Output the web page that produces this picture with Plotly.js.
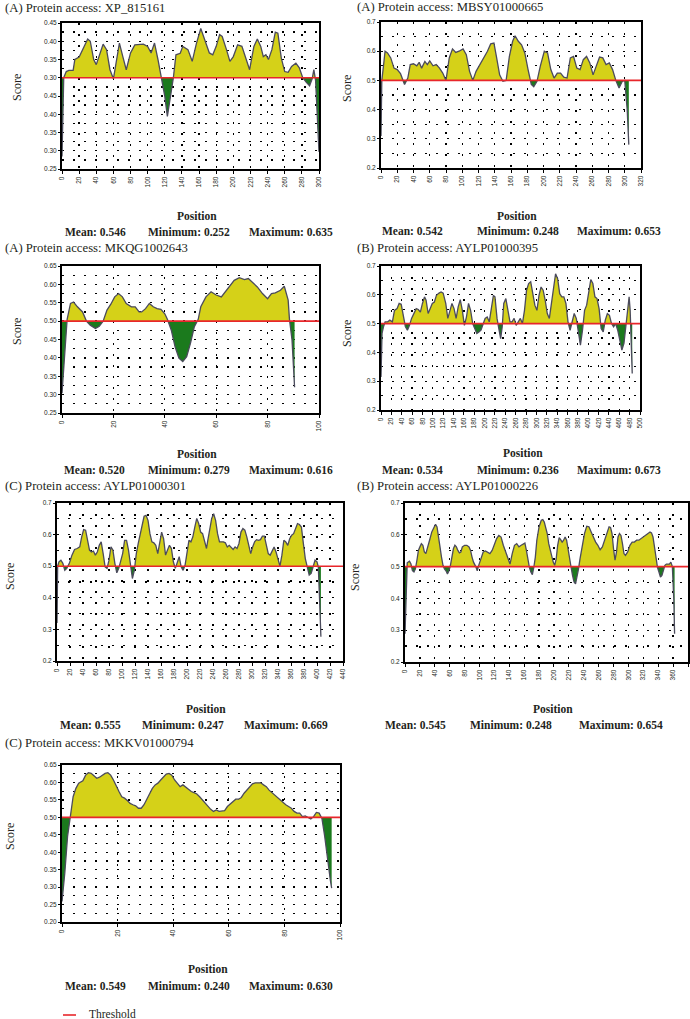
<!DOCTYPE html>
<html>
<head>
<meta charset="utf-8">
<script src="https://cdn.plot.ly/plotly-3.0.1.min.js"></script>
<style>
  body { margin: 0; background: #fff; }
  #chart { width: 690px; height: 1019px; }
</style>
</head>
<body>
<div id="chart"></div>
<script>
// Antigenicity plots, seven proteins - Plotly.js

var threshold = 0.5;

var titles = [
    '(A) Protein access: XP_815161',
    '(A) Protein access: MBSY01000665',
    '(A) Protein access: MKQG1002643',
    '(B) Protein access: AYLP01000395',
    '(C) Protein access: AYLP01000301',
    '(B) Protein access: AYLP01000226',
    '(C) Protein access: MKKV01000794'
];
var means = [0.546, 0.542, 0.520, 0.534, 0.555, 0.545, 0.549];
var minima = [0.252, 0.248, 0.279, 0.236, 0.247, 0.248, 0.240];
var maxima = [0.635, 0.653, 0.616, 0.673, 0.669, 0.654, 0.630];

var xRanges = [[0, 300], [0, 320], [0, 100], [0, 500], [0, 440], [0, 380], [0, 100]];
var yRanges = [[0.25, 0.65], [0.2, 0.7], [0.25, 0.65], [0.2, 0.7], [0.2, 0.7], [0.2, 0.7], [0.2, 0.65]];
var yDticks = [0.05, 0.1, 0.05, 0.1, 0.1, 0.1, 0.05];
// the first panel carries its (misprinted) tick labels as in the source figure
var yTickVals1 = [0.25, 0.30, 0.35, 0.40, 0.45, 0.50, 0.55, 0.60, 0.65];
var yTickText1 = ['0.25', '0.30', '0.35', '0.40', '0.45', '0.30', '0.35', '0.40', '0.45'];

var pos1 = [0, 2, 5, 8, 13, 15, 20, 25, 30, 33, 37, 40, 45, 48, 52, 56, 60, 63, 67, 71, 75, 80, 85, 95, 100,
    104, 108, 112, 116, 120, 123, 126, 130, 133, 138, 141, 147, 152, 157, 162, 167, 172, 176, 180, 184,
    187, 192, 196, 200, 205, 210, 215, 219, 224, 228, 232, 235, 238, 241, 245, 249, 252, 256, 260, 264,
    268, 273, 277, 281, 285, 289, 292, 294, 296, 298, 300];
var score1 = [0.284, 0.50, 0.517, 0.52, 0.52, 0.55, 0.557, 0.58, 0.606, 0.60, 0.55, 0.536, 0.568, 0.592, 0.577,
    0.522, 0.497, 0.54, 0.595, 0.558, 0.522, 0.568, 0.59, 0.592, 0.586, 0.568, 0.595, 0.55, 0.50, 0.449,
    0.394, 0.44, 0.50, 0.563, 0.567, 0.586, 0.577, 0.545, 0.595, 0.635, 0.604, 0.568, 0.563, 0.586, 0.618,
    0.613, 0.577, 0.545, 0.558, 0.59, 0.586, 0.55, 0.522, 0.586, 0.606, 0.586, 0.558, 0.563, 0.55, 0.577,
    0.625, 0.622, 0.554, 0.517, 0.515, 0.531, 0.54, 0.527, 0.50, 0.488, 0.478, 0.497, 0.522, 0.493, 0.385, 0.297];

var pos2 = [0, 1, 3, 5, 8, 12, 16, 20, 24, 29, 33, 36, 40, 44, 47, 50, 54, 57, 60, 64, 68, 72, 76, 80, 84,
    88, 92, 96, 101, 105, 109, 113, 117, 122, 127, 131, 135, 139, 142, 146, 150, 154, 158, 162, 165,
    169, 173, 177, 181, 185, 188, 192, 196, 201, 205, 209, 213, 217, 221, 225, 229, 233, 237, 241, 245,
    249, 253, 257, 261, 265, 269, 273, 277, 281, 285, 289, 293, 297, 300, 303, 305];
var score2 = [0.31, 0.50, 0.548, 0.60, 0.594, 0.577, 0.542, 0.537, 0.523, 0.486, 0.508, 0.554, 0.557, 0.55, 0.562,
    0.542, 0.565, 0.554, 0.567, 0.55, 0.554, 0.542, 0.525, 0.50, 0.577, 0.608, 0.596, 0.60, 0.608, 0.588,
    0.531, 0.50, 0.531, 0.554, 0.577, 0.60, 0.625, 0.628, 0.582, 0.519, 0.497, 0.50, 0.582, 0.634, 0.653,
    0.634, 0.622, 0.594, 0.537, 0.486, 0.478, 0.497, 0.548, 0.60, 0.594, 0.537, 0.508, 0.525, 0.525, 0.511,
    0.508, 0.577, 0.582, 0.542, 0.537, 0.571, 0.582, 0.56, 0.519, 0.548, 0.58, 0.577, 0.554, 0.56, 0.537,
    0.50, 0.474, 0.497, 0.50, 0.40, 0.28];

var pos3 = [0, 1, 2, 3.3, 4.5, 6, 8, 9.5, 11, 13, 14.5, 16, 17.5, 19, 20.5, 22, 23.5, 25, 27, 28.5, 30, 31, 32.5,
    34, 35.5, 37, 38.5, 40, 41, 42.5, 44, 45.5, 47, 48.5, 50, 51.5, 53, 54, 56, 58, 60, 62, 63.5, 65, 67,
    69, 71, 72.5, 74, 76, 78, 80, 81.5, 83, 85, 86.5, 88, 88.5, 89.5, 90.5];
var score3 = [0.304, 0.395, 0.505, 0.548, 0.552, 0.539, 0.525, 0.50, 0.489, 0.48, 0.486, 0.50, 0.53, 0.546, 0.566,
    0.575, 0.566, 0.548, 0.539, 0.539, 0.525, 0.525, 0.534, 0.548, 0.539, 0.534, 0.532, 0.52, 0.505, 0.476,
    0.43, 0.399, 0.39, 0.403, 0.44, 0.485, 0.505, 0.539, 0.566, 0.58, 0.571, 0.566, 0.58, 0.595, 0.611,
    0.618, 0.613, 0.616, 0.607, 0.593, 0.575, 0.561, 0.575, 0.577, 0.584, 0.595, 0.557, 0.505, 0.449, 0.32];

var pos4 = [0, 2, 5, 8, 13, 17, 22, 26, 31, 35, 39, 43, 47, 51, 55, 59, 64, 68, 72, 76, 80, 84, 87, 91, 95,
    99, 103, 107, 112, 116, 120, 125, 129, 133, 137, 141, 145, 149, 153, 157, 161, 165, 169, 173, 177,
    181, 185, 189, 193, 197, 201, 205, 209, 213, 217, 220, 224, 228, 231, 234, 237, 241, 245, 249, 253,
    257, 261, 265, 269, 273, 277, 281, 285, 289, 293, 297, 301, 305, 309, 313, 317, 321, 325, 329, 333,
    337, 341, 345, 349, 353, 357, 361, 365, 369, 373, 377, 381, 385, 389, 393, 397, 401, 405, 409, 413,
    417, 421, 425, 429, 433, 437, 441, 445, 449, 453, 457, 461, 465, 469, 473, 476, 479, 481, 483, 485];
var score4 = [0.315, 0.466, 0.49, 0.506, 0.506, 0.512, 0.506, 0.546, 0.552, 0.57, 0.567, 0.523, 0.49, 0.477, 0.494,
    0.518, 0.535, 0.552, 0.549, 0.54, 0.57, 0.593, 0.581, 0.535, 0.552, 0.57, 0.575, 0.598, 0.606, 0.61,
    0.606, 0.57, 0.518, 0.546, 0.57, 0.552, 0.518, 0.558, 0.583, 0.546, 0.494, 0.523, 0.57, 0.546, 0.50,
    0.483, 0.466, 0.471, 0.477, 0.498, 0.518, 0.523, 0.506, 0.552, 0.598, 0.593, 0.518, 0.477, 0.448, 0.489,
    0.57, 0.587, 0.552, 0.506, 0.506, 0.518, 0.494, 0.506, 0.518, 0.50, 0.546, 0.616, 0.639, 0.645, 0.604,
    0.564, 0.546, 0.598, 0.627, 0.616, 0.581, 0.535, 0.518, 0.57, 0.627, 0.673, 0.656, 0.604, 0.593, 0.593,
    0.57, 0.506, 0.477, 0.512, 0.535, 0.518, 0.477, 0.425, 0.477, 0.546, 0.564, 0.604, 0.653, 0.639, 0.593,
    0.587, 0.552, 0.483, 0.471, 0.512, 0.535, 0.529, 0.50, 0.489, 0.50, 0.477, 0.437, 0.408, 0.431, 0.494,
    0.535, 0.593, 0.546, 0.419, 0.327];

var pos5 = [0, 1, 3, 6, 9, 12, 15, 19, 23, 27, 31, 35, 38, 41, 44, 47, 50, 53, 56, 59, 62, 65, 68, 71, 74,
    77, 80, 83, 86, 89, 92, 95, 98, 101, 104, 107, 110, 113, 116, 119, 122, 125, 128, 131, 134, 137, 140,
    143, 146, 149, 152, 155, 158, 161, 164, 167, 170, 173, 176, 179, 182, 185, 188, 191, 194, 197, 200,
    203, 206, 209, 212, 215, 218, 221, 224, 227, 230, 232, 235, 238, 241, 244, 247, 250, 253, 256, 259,
    262, 265, 268, 271, 274, 277, 280, 283, 286, 289, 292, 295, 298, 301, 304, 307, 310, 313, 316, 319,
    322, 325, 328, 331, 334, 337, 340, 343, 346, 349, 352, 355, 358, 361, 364, 367, 370, 373, 376, 379,
    382, 385, 388, 391, 394, 397, 400, 402, 404, 405, 406];
var score5 = [0.32, 0.50, 0.514, 0.519, 0.509, 0.487, 0.493, 0.509, 0.535, 0.553, 0.556, 0.561, 0.593, 0.616, 0.614,
    0.582, 0.551, 0.545, 0.548, 0.535, 0.545, 0.566, 0.577, 0.54, 0.498, 0.493, 0.519, 0.561, 0.551, 0.509,
    0.479, 0.493, 0.519, 0.54, 0.582, 0.582, 0.551, 0.498, 0.461, 0.487, 0.54, 0.572, 0.603, 0.635, 0.658,
    0.661, 0.645, 0.603, 0.577, 0.574, 0.566, 0.54, 0.572, 0.608, 0.587, 0.535, 0.551, 0.566, 0.556, 0.514,
    0.493, 0.514, 0.53, 0.498, 0.487, 0.503, 0.551, 0.582, 0.577, 0.593, 0.624, 0.651, 0.635, 0.608, 0.603,
    0.582, 0.556, 0.582, 0.619, 0.651, 0.666, 0.645, 0.603, 0.577, 0.577, 0.577, 0.574, 0.561, 0.566, 0.561,
    0.553, 0.561, 0.556, 0.572, 0.608, 0.619, 0.614, 0.593, 0.561, 0.54, 0.561, 0.577, 0.584, 0.582, 0.584,
    0.595, 0.595, 0.566, 0.54, 0.535, 0.551, 0.561, 0.545, 0.524, 0.50, 0.535, 0.582, 0.577, 0.566, 0.587,
    0.598, 0.603, 0.619, 0.635, 0.632, 0.624, 0.572, 0.524, 0.498, 0.472, 0.477, 0.503, 0.519, 0.514, 0.498,
    0.393, 0.287, 0.277];

var pos6 = [0, 1, 2, 3, 4, 6, 8, 10, 12, 14, 16, 18, 20, 22, 24, 26, 28, 30, 33, 36, 39, 41, 43, 45, 47,
    49, 51, 53, 55, 57, 59, 61, 63, 65, 67, 69, 71, 73, 75, 77, 80, 83, 86, 88, 90, 92, 95, 97, 99, 101,
    103, 105, 108, 111, 114, 117, 120, 123, 126, 129, 132, 135, 138, 141, 144, 147, 150, 153, 156, 159,
    161, 163, 165, 167, 169, 171, 173, 175, 177, 180, 183, 185, 187, 189, 191, 193, 195, 197, 199, 201,
    203, 205, 207, 209, 211, 213, 215, 217, 219, 221, 223, 225, 227, 229, 231, 233, 235, 238, 241, 244,
    247, 250, 253, 256, 259, 262, 265, 268, 271, 274, 276, 278, 280, 282, 284, 286, 288, 290, 292, 294,
    296, 299, 302, 305, 308, 311, 314, 317, 320, 323, 326, 329, 331, 333, 335, 337, 339, 341, 343, 345,
    347, 349, 351, 355, 357, 359, 361, 362];
var score6 = [0.289, 0.394, 0.50, 0.512, 0.514, 0.517, 0.508, 0.487, 0.483, 0.493, 0.52, 0.551, 0.562, 0.572, 0.567,
    0.546, 0.541, 0.556, 0.583, 0.609, 0.625, 0.633, 0.625, 0.598, 0.562, 0.53, 0.504, 0.493, 0.487, 0.477,
    0.487, 0.504, 0.535, 0.556, 0.567, 0.562, 0.551, 0.543, 0.546, 0.562, 0.567, 0.567, 0.562, 0.551, 0.53,
    0.514, 0.50, 0.487, 0.504, 0.52, 0.535, 0.546, 0.549, 0.546, 0.541, 0.551, 0.572, 0.588, 0.598, 0.593,
    0.567, 0.546, 0.53, 0.508, 0.541, 0.567, 0.572, 0.562, 0.567, 0.572, 0.574, 0.551, 0.52, 0.498, 0.483,
    0.475, 0.498, 0.53, 0.583, 0.625, 0.646, 0.648, 0.64, 0.625, 0.604, 0.572, 0.551, 0.53, 0.514, 0.504,
    0.524, 0.567, 0.591, 0.585, 0.577, 0.583, 0.593, 0.583, 0.551, 0.514, 0.498, 0.472, 0.452, 0.446, 0.467,
    0.493, 0.524, 0.572, 0.604, 0.627, 0.625, 0.609, 0.593, 0.577, 0.567, 0.553, 0.562, 0.583, 0.604, 0.625,
    0.623, 0.604, 0.556, 0.52, 0.546, 0.593, 0.604, 0.598, 0.572, 0.541, 0.535, 0.546, 0.567, 0.577, 0.577,
    0.583, 0.583, 0.588, 0.593, 0.598, 0.604, 0.609, 0.606, 0.593, 0.562, 0.524, 0.498, 0.483, 0.467, 0.472,
    0.487, 0.504, 0.508, 0.508, 0.514, 0.50, 0.394, 0.289];

var pos7 = [0, 1, 2, 3, 4, 5, 6, 7.5, 8.5, 9.5, 10.5, 11.5, 12.5, 13.5, 14.5, 15.5, 16.5, 17.5, 18.5, 19.5,
    20.5, 21.5, 22.5, 23.5, 24.5, 25.5, 26.5, 27.5, 28.5, 29.5, 30.5, 31.5, 32.5, 33.5, 34.5, 35.5, 36.5,
    37.5, 38.5, 39.5, 40.5, 41.5, 42.5, 43.5, 44.5, 45.5, 46.5, 47.5, 48.5, 49.5, 50.5, 51.5, 52.5, 53.5,
    54.5, 55.5, 56.5, 57.5, 58.5, 59.5, 60.5, 61.5, 62.5, 63.5, 64.5, 65.5, 66.5, 67.5, 68.5, 69.5, 70.5,
    71.5, 72.5, 73.5, 74.5, 75.5, 76.5, 77.5, 78.5, 79.5, 80.5, 81.5, 82.5, 83.5, 84.5, 85.5, 86.5, 87.5,
    88.5, 89.5, 90.5, 91.5, 92.5, 93.5, 94.5, 95.5, 96.5, 97];
var score7 = [0.259, 0.34, 0.445, 0.50, 0.559, 0.583, 0.598, 0.605, 0.621, 0.628, 0.626, 0.619, 0.612, 0.615, 0.621,
    0.626, 0.628, 0.621, 0.607, 0.588, 0.574, 0.559, 0.555, 0.548, 0.54, 0.536, 0.533, 0.526, 0.526, 0.536,
    0.552, 0.569, 0.583, 0.593, 0.598, 0.607, 0.617, 0.624, 0.626, 0.621, 0.607, 0.596, 0.588, 0.593, 0.586,
    0.58, 0.574, 0.571, 0.567, 0.559, 0.55, 0.54, 0.531, 0.523, 0.517, 0.521, 0.517, 0.517, 0.519, 0.531,
    0.538, 0.545, 0.552, 0.552, 0.557, 0.569, 0.578, 0.588, 0.596, 0.599, 0.599, 0.599, 0.593, 0.588, 0.578,
    0.571, 0.564, 0.557, 0.55, 0.542, 0.536, 0.531, 0.526, 0.517, 0.512, 0.512, 0.502, 0.504, 0.50, 0.495,
    0.502, 0.514, 0.512, 0.497, 0.445, 0.378, 0.321, 0.297];

var positions = [pos1, pos2, pos3, pos4, pos5, pos6, pos7];
var scores = [score1, score2, score3, score4, score5, score6, score7];

// page geometry, in pixels of the 690 x 1019 figure
var W = 690, H = 1019;
var boxes = [
    { plot: [62, 319, 23, 169], title: [3, 8], score: [17, 88], position: [197, 216], stats: [63, 146, 247], statsY: 232 },
    { plot: [381, 641, 22, 168], title: [355, 7], score: [347, 88], position: [517, 216], stats: [380, 475, 575], statsY: 231 },
    { plot: [62, 319, 266, 413], title: [3, 248], score: [17, 332], position: [197, 454], stats: [62, 146, 247], statsY: 470 },
    { plot: [381, 640, 266, 410], title: [355, 248], score: [347, 333], position: [523, 453], stats: [380, 475, 575], statsY: 470 },
    { plot: [57, 343, 503, 661], title: [3, 486], score: [10, 577], position: [206, 709], stats: [58, 140, 242], statsY: 725 },
    { plot: [405, 688, 503, 662], title: [355, 486], score: [355, 577], position: [553, 709], stats: [383, 468, 577], statsY: 725 },
    { plot: [62, 340, 765, 922], title: [3, 743], score: [10, 837], position: [208, 969], stats: [63, 146, 247], statsY: 986 }
];

var SERIF = 'Liberation Serif, Times New Roman, serif';
var SANS = 'Liberation Sans, Arial, sans-serif';
var INK = '#231f20';
var YELLOW = '#d5d118';
var GREEN = '#1b7a1d';
var RED = '#e8262b';
var DOTS = '2px,9px';

function px(x) { return x / W; }
function py(y) { return 1 - y / H; }

function note(text, x, y, size, extra) {
    var a = {
        xref: 'paper', yref: 'paper', x: px(x), y: py(y), text: text, showarrow: false,
        xanchor: 'center', yanchor: 'middle', font: { family: SERIF, size: size, color: INK }
    };
    for (var k in extra) a[k] = extra[k];
    return a;
}

var data = [];
var annotations = [];
var layout = {
    width: W, height: H,
    margin: { l: 0, r: 0, t: 0, b: 0 },
    paper_bgcolor: '#fff', plot_bgcolor: '#fff',
    showlegend: false,
    font: { family: SERIF, color: INK }
};

positions.forEach(function (pos, i) {
    var s = i === 0 ? '' : String(i + 1);
    var b = boxes[i];
    var last = pos.length - 1;

    // baseline at the threshold, the curve fills back to it
    data.push({
        x: [pos[0], pos[last]], y: [threshold, threshold],
        xaxis: 'x' + s, yaxis: 'y' + s, mode: 'lines',
        line: { width: 0 }, hoverinfo: 'skip', showlegend: false
    });
    // score curve: yellow above the threshold, green below
    data.push({
        x: pos, y: scores[i],
        xaxis: 'x' + s, yaxis: 'y' + s, mode: 'lines',
        fill: 'tonexty',
        fillcolor: YELLOW,
        fillgradient: {
            type: 'vertical', start: threshold - 0.5, stop: threshold + 0.5,
            colorscale: [[0, GREEN], [0.5, GREEN], [0.5, YELLOW], [1, YELLOW]]
        },
        line: { color: '#4b4b5c', width: 1.3 },
        showlegend: false
    });
    // threshold line across the whole axis
    data.push({
        x: xRanges[i], y: [threshold, threshold],
        xaxis: 'x' + s, yaxis: 'y' + s, mode: 'lines',
        line: { color: RED, width: 1.6 },
        name: 'Threshold', showlegend: false
    });

    var xa = {
        domain: [px(b.plot[0]), px(b.plot[1])],
        range: xRanges[i], tick0: 0, dtick: 20,
        tickangle: -90, tickfont: { family: SANS, size: 6.5, color: INK },
        ticks: 'outside', ticklen: 3, tickcolor: '#000',
        showline: true, linecolor: '#000', linewidth: 2, mirror: true,
        showgrid: true, gridcolor: '#000', griddash: DOTS, gridwidth: 1.3,
        zeroline: false, anchor: 'y' + s, fixedrange: true
    };
    var ya = {
        domain: [py(b.plot[3]), py(b.plot[2])],
        range: yRanges[i], tick0: 0, dtick: yDticks[i],
        tickformat: yDticks[i] < 0.1 ? '.2f' : '.1f',
        tickfont: { family: SANS, size: 6.5, color: INK },
        ticks: 'outside', ticklen: 2, tickcolor: '#000',
        showline: true, linecolor: '#000', linewidth: 2, mirror: true,
        showgrid: true, gridcolor: '#000', griddash: DOTS, gridwidth: 1.3,
        zeroline: false, anchor: 'x' + s, fixedrange: true,
        minor: { dtick: yDticks[i] / 2, showgrid: true, gridcolor: '#000', griddash: DOTS, gridwidth: 1.3 }
    };
    if (i === 0) {
        ya.tickmode = 'array';
        ya.tickvals = yTickVals1;
        ya.ticktext = yTickText1;
    }
    layout['xaxis' + s] = xa;
    layout['yaxis' + s] = ya;

    annotations.push(note(titles[i], b.title[0], b.title[1], 12.7, { xanchor: 'left' }));
    annotations.push(note('Score', b.score[0], b.score[1], 12, { textangle: -90 }));
    annotations.push(note('<b>Position</b>', b.position[0], b.position[1], 11.5));
    annotations.push(note('<b>Mean: ' + means[i].toFixed(3) + '</b>', b.stats[0], b.statsY, 11.5, { xanchor: 'left' }));
    annotations.push(note('<b>Minimum: ' + minima[i].toFixed(3) + '</b>', b.stats[1], b.statsY, 11.5, { xanchor: 'left' }));
    annotations.push(note('<b>Maximum: ' + maxima[i].toFixed(3) + '</b>', b.stats[2], b.statsY, 11.5, { xanchor: 'left' }));
});

// legend key at the foot of the page
annotations.push(note('Threshold', 87, 1014, 11.5, { xanchor: 'left' }));
layout.shapes = [{
    type: 'line', xref: 'paper', yref: 'paper',
    x0: px(63), x1: px(76), y0: py(1015), y1: py(1015),
    line: { color: RED, width: 1.6 }
}];
layout.annotations = annotations;

Plotly.newPlot('chart', data, layout, { staticPlot: true });
</script>
</body>
</html>
